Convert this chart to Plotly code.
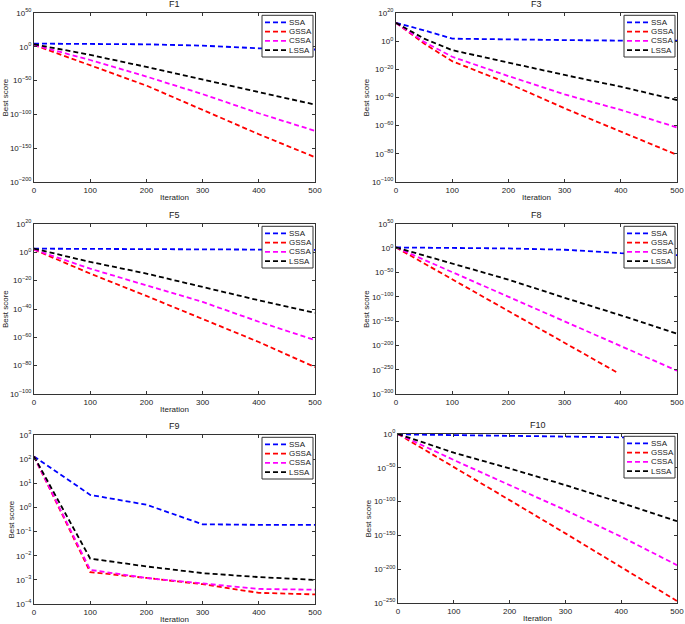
import plotly.graph_objects as go

W, H = 685, 624

series_names = ["SSA", "GSSA", "CSSA", "LSSA"]
series_colors = ["#0000ff", "#ff0000", "#ff00ff", "#000000"]

iters = [0, 100, 200, 300, 400, 500]
iters_f3 = [0, 50, 100, 200, 300, 400, 500]
iters_f8_gssa = [0, 100, 200, 300, 393]

# F1
f1_ssa = [5e4, 1.6e4, 5e3, 5e1, 6e-3, 1e-4]
f1_gssa = [5e2, 1.6e-27, 4e-58, 5e-94, 5e-130, 5e-164]
f1_cssa = [5e2, 3e-20, 1e-44, 1e-70, 5e-99, 4e-125]
f1_lssa = [5e3, 1e-12, 1.6e-30, 1e-48, 6e-68, 3e-86]

# F3
f3_ssa = [1e13, 5e7, 6e1, 1.3e1, 6e0, 2.5e0, 2e0]
f3_gssa = [1e13, 2e-2, 6e-15, 1e-30, 2e-48, 6e-65, 2e-81]
f3_cssa = [1e13, 3e-1, 8e-12, 1.6e-25, 1.6e-38, 1.6e-49, 5e-62]
f3_lssa = [1e13, 6e1, 4e-7, 4e-16, 1e-24, 5e-33, 1.6e-42]

# F5
f5_ssa = [4e2, 3e2, 2.5e2, 1.6e2, 1e2, 6e1]
f5_gssa = [8e1, 1e-15, 1.6e-31, 1.6e-47, 5e-64, 1e-81]
f5_cssa = [8e1, 3e-12, 5e-24, 1e-35, 1e-49, 1e-62]
f5_lssa = [4e2, 1.6e-7, 1e-15, 2e-25, 1.3e-34, 1.6e-43]

# F8
f8_ssa = [5e1, 1e1, 5e-1, 1e-3, 1e-10, 1e-14]
f8_gssa = [5e1, 1e-64, 1e-129, 1e-194, 3e-256]
f8_cssa = [5e1, 1e-49, 1e-100, 1e-151, 1e-201, 1e-252]
f8_lssa = [5e1, 1e-31, 3e-65, 1e-102, 1e-138, 1e-176]

# F9
f9_ssa = [130, 3.3, 1.3, 0.2, 0.19, 0.19]
f9_gssa = [130, 2.1e-3, 1.2e-3, 6.6e-4, 2.9e-4, 2.5e-4]
f9_cssa = [130, 2.6e-3, 1.2e-3, 7.0e-4, 4.2e-4, 3.9e-4]
f9_lssa = [130, 7.6e-3, 3.6e-3, 1.9e-3, 1.3e-3, 1.0e-3]

# F10
f10_ssa = [3e-1, 3e-2, 3e-3, 3e-4, 1.3e-5, 1e-6]
f10_gssa = [1, 4e-49, 1.6e-98, 1e-147, 2.5e-197, 1e-247]
f10_cssa = [1, 3e-39, 2.5e-76, 2.5e-113, 1e-152, 1e-194]
f10_lssa = [1, 2e-28, 1.3e-51, 2.5e-76, 1.6e-102, 1e-129]

x_ticks = [0, 100, 200, 300, 400, 500]
f1_exps = [50, 0, -50, -100, -150, -200]
f3_exps = [20, 0, -20, -40, -60, -80, -100]
f5_exps = [20, 0, -20, -40, -60, -80, -100]
f8_exps = [50, 0, -50, -100, -150, -200, -250, -300]
f9_exps = [3, 2, 1, 0, -1, -2, -3, -4]
f10_exps = [0, -50, -100, -150, -200, -250]

panels = [
    dict(title="F1", xs=[iters] * 4, ys=[f1_ssa, f1_gssa, f1_cssa, f1_lssa], exps=f1_exps,
         box=(34, 315, 13, 182), xlabel=True, ylx=5),
    dict(title="F3", xs=[iters_f3] * 4, ys=[f3_ssa, f3_gssa, f3_cssa, f3_lssa], exps=f3_exps,
         box=(396, 677, 13, 182), xlabel=True, ylx=366),
    dict(title="F5", xs=[iters] * 4, ys=[f5_ssa, f5_gssa, f5_cssa, f5_lssa], exps=f5_exps,
         box=(34, 315, 224, 394), xlabel=True, ylx=5),
    dict(title="F8", xs=[iters, iters_f8_gssa, iters, iters], ys=[f8_ssa, f8_gssa, f8_cssa, f8_lssa], exps=f8_exps,
         box=(396, 677, 224, 394), xlabel=False, ylx=366),
    dict(title="F9", xs=[iters] * 4, ys=[f9_ssa, f9_gssa, f9_cssa, f9_lssa], exps=f9_exps,
         box=(34, 315, 435, 604), xlabel=True, ylx=11),
    dict(title="F10", xs=[iters] * 4, ys=[f10_ssa, f10_gssa, f10_cssa, f10_lssa], exps=f10_exps,
         box=(398, 677, 434, 603), xlabel=True, ylx=368),
]

FONT = "Liberation Sans"
AX = "#333333"
TXT = "#222222"


def px(x):
    return x / W


def py(y):
    return 1 - y / H


def exp_label(e):
    s = str(e).replace("-", "\u2212")
    return "10<sup>" + s + "</sup>"


fig = go.Figure()
shapes = []
annotations = []
layout = {}

for i, p in enumerate(panels):
    k = "" if i == 0 else str(i + 1)
    xa, ya = "x" + k, "y" + k
    L, R, T, B = p["box"]
    for name, color, xs, ys in zip(series_names, series_colors, p["xs"], p["ys"]):
        fig.add_trace(go.Scatter(x=xs, y=ys, mode="lines", name=name, xaxis=xa, yaxis=ya,
                                 showlegend=False,
                                 line=dict(color=color, width=1.8, dash="5px,3px")))
    exps = p["exps"]
    layout["xaxis" + k] = dict(
        domain=[px(L), px(R)], anchor=ya, range=[0, 500], tickvals=x_ticks,
        ticktext=[str(v) for v in x_ticks], ticks="inside", ticklen=3, tickcolor=AX,
        showline=True, linecolor=AX, linewidth=1, mirror="ticks", showgrid=False,
        zeroline=False, tickfont=dict(family=FONT, size=8, color=TXT), automargin=False)
    layout["yaxis" + k] = dict(
        domain=[py(B), py(T)], anchor=xa, type="log", range=[min(exps), max(exps)],
        tickvals=[10.0 ** e for e in exps], ticktext=[exp_label(e) for e in exps],
        ticks="inside", ticklen=3, tickcolor=AX, showline=True, linecolor=AX, linewidth=1,
        mirror="ticks", showgrid=False, zeroline=False,
        tickfont=dict(family=FONT, size=8, color=TXT), automargin=False)

    cx = (L + R) / 2
    annotations.append(dict(text=p["title"], x=px(cx), y=py(T - 9), xref="paper", yref="paper",
                            showarrow=False, xanchor="center", yanchor="middle",
                            font=dict(family=FONT, size=9, color=TXT)))
    if p["xlabel"]:
        annotations.append(dict(text="Iteration", x=px(cx), y=py(B + 15), xref="paper", yref="paper",
                                showarrow=False, xanchor="center", yanchor="middle",
                                font=dict(family=FONT, size=8, color=TXT)))
    annotations.append(dict(text="Best score", x=px(p["ylx"]), y=py((T + B) / 2), xref="paper",
                            yref="paper", showarrow=False, xanchor="center", yanchor="middle",
                            textangle=-90, font=dict(family=FONT, size=8, color=TXT)))

    # legend box
    lx0, lx1 = R - 53, R - 2
    ly0, ly1 = T + 2.3, T + 44
    shapes.append(dict(type="rect", xref="paper", yref="paper", x0=px(lx0), x1=px(lx1),
                       y0=py(ly1), y1=py(ly0), fillcolor="white",
                       line=dict(color=AX, width=1), layer="above"))
    for j, (name, color) in enumerate(zip(series_names, series_colors)):
        yy = T + 9.3 + 9.25 * j
        shapes.append(dict(type="line", xref="paper", yref="paper", x0=px(lx0 + 3), x1=px(lx0 + 24),
                           y0=py(yy), y1=py(yy), layer="above",
                           line=dict(color=color, width=1.8, dash="5px,3px")))
        annotations.append(dict(text=name, x=px(lx0 + 24.5), y=py(yy), xref="paper", yref="paper",
                                showarrow=False, xanchor="left", yanchor="middle",
                                font=dict(family=FONT, size=8, color=TXT)))

fig.update_layout(
    width=W, height=H, margin=dict(l=0, r=0, t=0, b=0),
    paper_bgcolor="white", plot_bgcolor="white", showlegend=False,
    shapes=shapes, annotations=annotations, **layout)

fig.write_html("out.html", config={"displayModeBar": False},
               post_script="document.body.style.margin='0';document.body.style.overflow='hidden';")
